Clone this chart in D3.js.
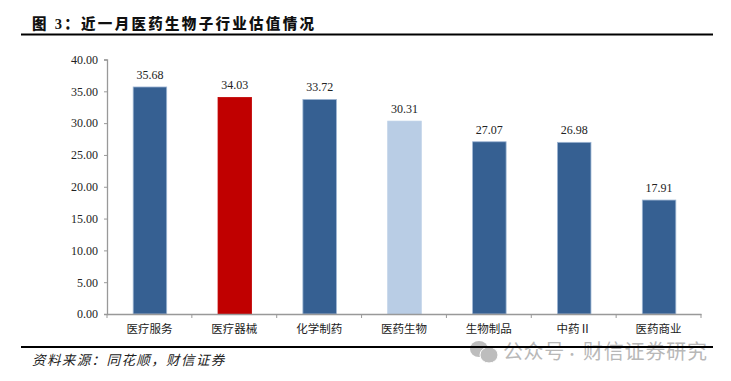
<!DOCTYPE html>
<html>
<head>
<meta charset="utf-8">
<script src="https://cdn.jsdelivr.net/npm/d3@7"></script>
<style>
  html, body { margin: 0; padding: 0; background: #fff; }
  svg { display: block; }
  text { font-family: "Liberation Serif", "Noto Sans CJK SC", serif; }
</style>
</head>
<body>
<svg id="chart" width="731" height="381"></svg>
<script>
const categories = ["医疗服务", "医疗器械", "化学制药", "医药生物", "生物制品", "中药Ⅱ", "医药商业"];
const values = [35.68, 34.03, 33.72, 30.31, 27.07, 26.98, 17.91];
const barColors = ["#366092", "#c00000", "#366092", "#b9cde5", "#366092", "#366092", "#366092"];
const edgeColors = ["#9db5d3", "#c00000", "#9db5d3", "#b9cde5", "#9db5d3", "#9db5d3", "#9db5d3"];
const yTicks = [0, 5, 10, 15, 20, 25, 30, 35, 40];

const svg = d3.select("#chart");
const x = d3.scaleBand().domain(categories).range([107, 701]);
const y = d3.scaleLinear().domain([0, 40]).range([314, 59.5]);
const barWidth = 33.5;

// heading
svg.append("text").attr("x", 32).attr("y", 29)
  .attr("font-size", 14.5).attr("font-weight", 900).attr("letter-spacing", 2.3)
  .attr("fill", "#111")
  .text("图 3：近一月医药生物子行业估值情况");

// bars
svg.selectAll("rect.bar").data(values).join("rect").attr("class", "bar")
  .attr("x", (d, i) => x(categories[i]) + x.bandwidth() / 2 - barWidth / 2 + 0.5)
  .attr("y", d => y(d))
  .attr("width", barWidth)
  .attr("height", d => y(0) - y(d))
  .attr("fill", (d, i) => barColors[i])
  .attr("stroke", (d, i) => edgeColors[i])
  .attr("stroke-width", 0.8);

// axes
const yAxis = svg.append("g").attr("transform", "translate(107,0)")
  .call(d3.axisLeft(y).tickValues(yTicks).tickSize(3).tickPadding(6).tickFormat(d3.format(".2f")));
const xAxis = svg.append("g").attr("transform", "translate(0,314)")
  .call(d3.axisBottom(x).tickSize(0).tickPadding(11));
xAxis.selectAll("line.edge").data(d3.range(8)).join("line").attr("class", "edge")
  .attr("x1", d => 107 + d * x.bandwidth()).attr("x2", d => 107 + d * x.bandwidth())
  .attr("y1", 0).attr("y2", 4).attr("stroke", "#999");
[yAxis, xAxis].forEach(g => {
  g.selectAll(".domain").attr("stroke", "#999").attr("stroke-width", 1.3);
  g.selectAll(".tick line").attr("stroke", "#999");
  g.selectAll("text").attr("font-size", 11.5).attr("fill", "#222")
    .style("font-family", '"Liberation Serif", "Noto Sans CJK SC", serif');
});
yAxis.selectAll("text").attr("font-size", 12);

// value labels
svg.selectAll("text.val").data(values).join("text").attr("class", "val")
  .attr("x", (d, i) => x(categories[i]) + x.bandwidth() / 2 + 0.5)
  .attr("y", d => y(d) - 8)
  .attr("text-anchor", "middle").attr("font-size", 12).attr("fill", "#222")
  .text(d => d.toFixed(2));

// source note
svg.append("text").attr("x", 32).attr("y", 365)
  .attr("font-size", 13.5).attr("font-style", "italic").attr("letter-spacing", 1.4).attr("fill", "#222")
  .text("资料来源：同花顺，财信证券");

// watermark
const mark = svg.append("g").attr("fill", "#bdbdbd");
mark.append("ellipse").attr("cx", 479).attr("cy", 349).attr("rx", 9).attr("ry", 8);
mark.append("ellipse").attr("cx", 489).attr("cy", 355).attr("rx", 9).attr("ry", 8).attr("stroke", "#fff").attr("stroke-width", 1);
const wm = svg.append("text").attr("y", 359)
  .attr("font-size", 20).attr("letter-spacing", 0.6).attr("fill", "#b8b8b8")
  .style("font-family", '"Noto Sans CJK SC", sans-serif');
wm.append("tspan").attr("x", 503).text("公众号");
wm.append("tspan").attr("x", 565.5).attr("font-size", 13).text("·");
wm.append("tspan").attr("x", 583).attr("letter-spacing", 0.8).text("财信证券研究");

// rules sit over the watermark
svg.selectAll("line.rule").data([34.5, 347]).join("line").attr("class", "rule")
  .attr("x1", 21).attr("x2", 713).attr("y1", d => d).attr("y2", d => d)
  .attr("stroke", "#000").attr("stroke-width", 2);
</script>
</body>
</html>
